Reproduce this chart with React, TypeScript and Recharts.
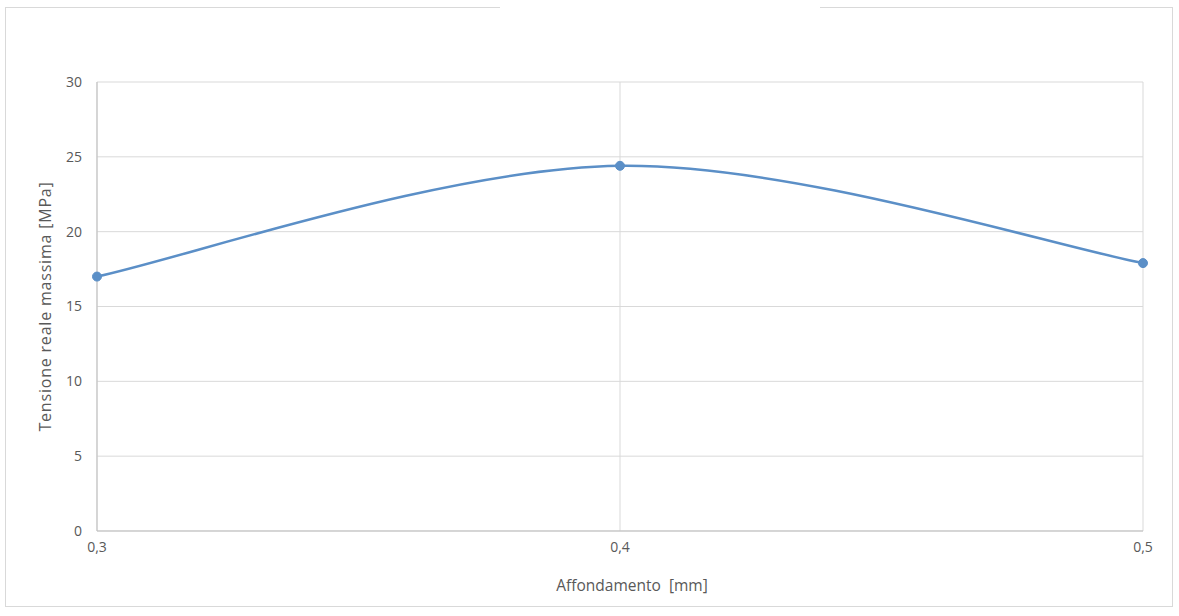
import { LineChart, Line, XAxis, YAxis, CartesianGrid } from 'recharts'

// Affondamento [mm] vs tensione reale massima [MPa]
const affondamento = [0.3, 0.4, 0.5]
const tensione = [17.0, 24.4, 17.9]
const xTicks = [0.3, 0.4, 0.5]
const yTicks = [0, 5, 10, 15, 20, 25, 30]

const data = affondamento.map((x, i) => ({ x, y: tensione[i] }))

const FONT = '"Open Sans", "Noto Sans", sans-serif'
const TEXT = '#595959'
const BLUE = '#5b8fc7'

// smussatura tipo foglio di calcolo: Catmull-Rom con bezier (tangente = (P[i+1]-P[i-1])/6)
const smoothCurve = (context: any) => {
  let pts: number[][] = []
  return {
    areaStart() {},
    areaEnd() {},
    lineStart() {
      pts = []
    },
    point(x: number, y: number) {
      pts.push([+x, +y])
    },
    lineEnd() {
      const n = pts.length
      if (!n) return
      context.moveTo(pts[0][0], pts[0][1])
      for (let i = 0; i < n - 1; i++) {
        const p0 = pts[Math.max(i - 1, 0)]
        const p1 = pts[i]
        const p2 = pts[i + 1]
        const p3 = pts[Math.min(i + 2, n - 1)]
        context.bezierCurveTo(
          p1[0] + (p2[0] - p0[0]) / 6,
          p1[1] + (p2[1] - p0[1]) / 6,
          p2[0] - (p3[0] - p1[0]) / 6,
          p2[1] - (p3[1] - p1[1]) / 6,
          p2[0],
          p2[1]
        )
      }
    },
  }
}

export default function App() {
  return (
    <div style={{ position: 'absolute', left: 0, top: 0, width: 1179, height: 616, background: '#fff' }}>
      {/* cornice esterna con apertura in alto */}
      <div style={{ position: 'absolute', left: 5, top: 7, width: 1166, height: 598, border: '1px solid #d9d9d9' }} />
      <div style={{ position: 'absolute', left: 500, top: 4, width: 320, height: 8, background: '#fff' }} />
      <div style={{ position: 'absolute', left: 0, top: 0 }}>
        <LineChart width={1179} height={616} data={data} margin={{ top: 82, right: 36, left: 37, bottom: 15 }}>
          <CartesianGrid stroke="#d9d9d9" strokeWidth={1} horizontal vertical />
          <XAxis
            dataKey="x"
            type="number"
            domain={[0.3, 0.5]}
            ticks={xTicks}
            tickFormatter={(v: number) => v.toFixed(1).replace('.', ',')}
            axisLine={{ stroke: '#bfbfbf' }}
            tickLine={false}
            tickSize={0}
            tickMargin={11}
            height={70}
            tick={{ fill: TEXT, fontSize: 14, fontFamily: FONT }}
            label={{ value: 'Affondamento\u00a0\u00a0[mm]', position: 'insideBottom', offset: 10, dx: 12, fill: TEXT, fontSize: 15.5, fontFamily: FONT }}
          />
          <YAxis
            type="number"
            domain={[0, 30]}
            ticks={yTicks}
            width={60}
            axisLine={{ stroke: '#bfbfbf' }}
            tickLine={false}
            tickSize={0}
            tickMargin={15}
            tick={{ fill: TEXT, fontSize: 14, fontFamily: FONT }}
            label={{ value: 'Tensione reale massima [MPa]', angle: -90, position: 'center', dx: -22, fill: TEXT, fontSize: 16, fontFamily: FONT, letterSpacing: 0.8 }}
          />
          <Line
            type={smoothCurve as any}
            dataKey="y"
            stroke={BLUE}
            strokeWidth={2.5}
            dot={{ r: 4.5, fill: BLUE, stroke: BLUE, strokeWidth: 1 }}
            isAnimationActive={false}
          />
        </LineChart>
      </div>
    </div>
  )
}
